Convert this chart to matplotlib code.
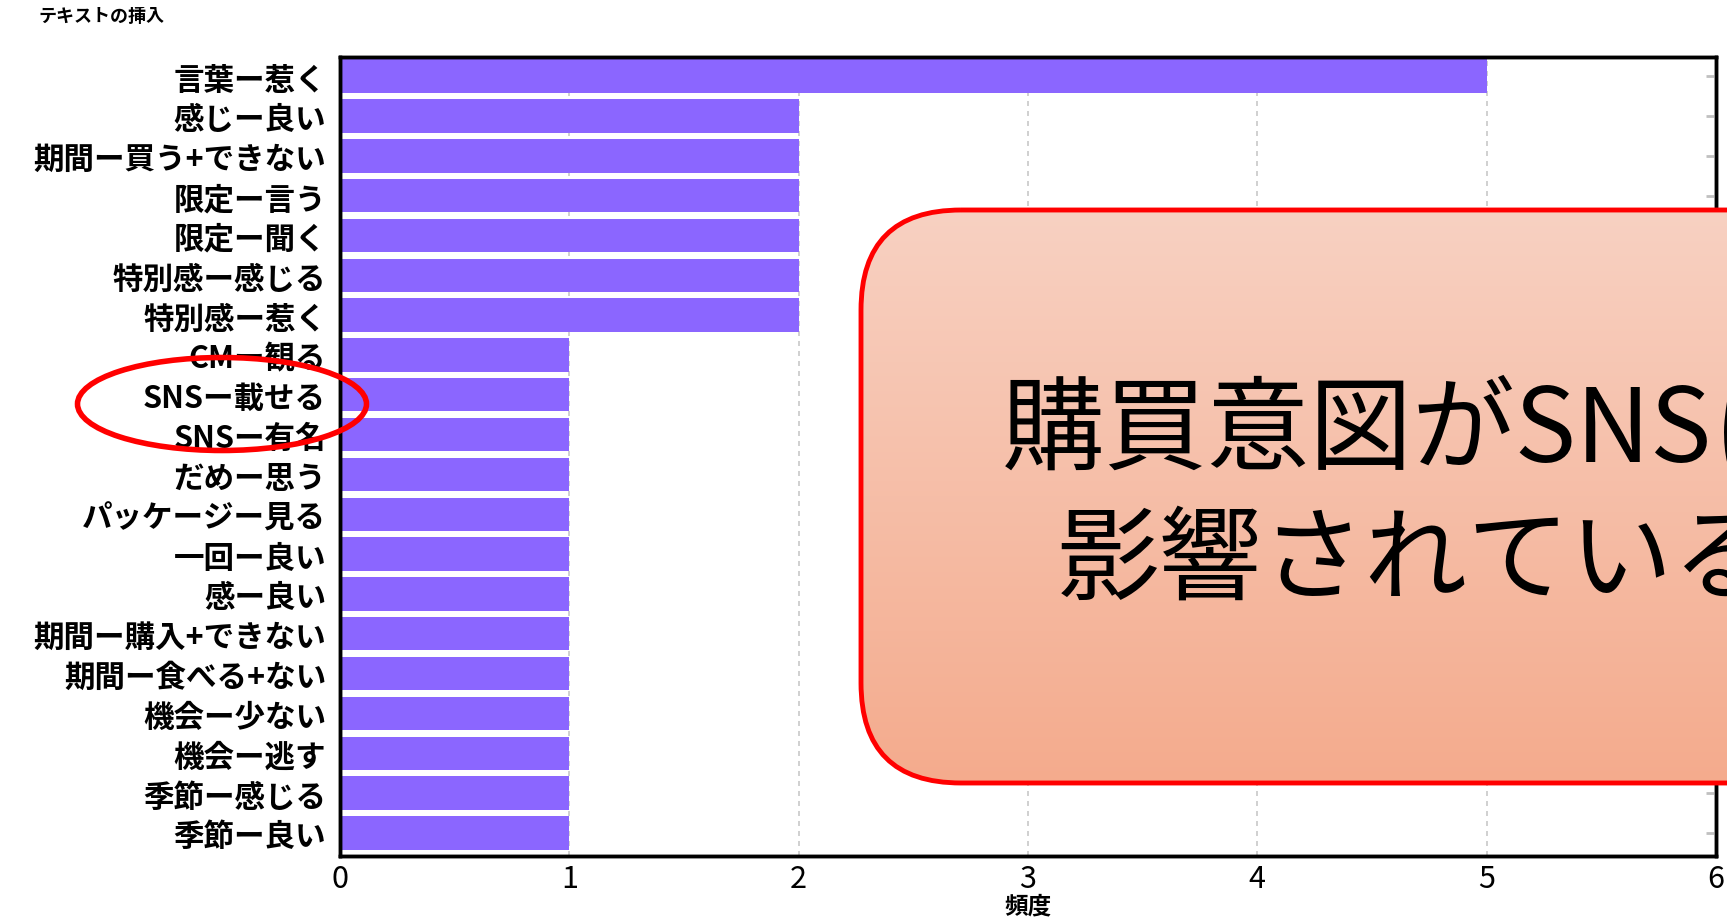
import numpy as np
import matplotlib.pyplot as plt
from matplotlib.patches import FancyBboxPatch, Ellipse
from matplotlib.colors import LinearSegmentedColormap

plt.rcParams['font.family'] = ['Noto Sans CJK JP', 'DejaVu Sans']

# data (top to bottom)
labels = ['言葉ー惹く', '感じー良い', '期間ー買う+できない', '限定ー言う', '限定ー聞く',
          '特別感ー感じる', '特別感ー惹く', 'CMー観る', 'SNSー載せる', 'SNSー有名',
          'だめー思う', 'パッケージー見る', '一回ー良い', '感ー良い', '期間ー購入+できない',
          '期間ー食べる+ない', '機会ー少ない', '機会ー逃す', '季節ー感じる', '季節ー良い']
freq = [5, 2, 2, 2, 2, 2, 2, 1, 1, 1, 1, 1, 1, 1, 1, 1, 1, 1, 1, 1]
xticks = [0, 1, 2, 3, 4, 5, 6]
callout_lines = ['購買意図がSNSに', '影響されている']

W, H = 1727, 920
fig = plt.figure(figsize=(W / 100, H / 100), dpi=100)
ax = fig.add_axes([340 / W, 1 - 857 / H, (1716 - 340) / W, (857 - 58) / H])

y = np.arange(len(labels))
ax.barh(y, freq, height=0.84, color='#8B66FF', zorder=2)
ax.set_ylim(len(labels) - 0.42, -0.48)
ax.set_xlim(0, 6)
ax.set_yticks(y)
ax.set_yticklabels(labels, fontsize=22, fontweight='bold')
ax.set_xticks(xticks)
ax.set_xticklabels([str(t) for t in xticks], fontsize=22)
ax.tick_params(axis='y', length=0, pad=10)
ax.tick_params(axis='x', length=0, pad=5)
ax.set_xlabel('頻度', fontsize=17, fontweight='bold', labelpad=0)
ax.grid(axis='x', color='#c8c8c8', linestyle=(0, (3, 3)), linewidth=1.2, zorder=0)

# small grey ticks on the right side
ax2 = ax.twinx()
ax2.set_ylim(ax.get_ylim())
ax2.set_yticks(y)
ax2.set_yticklabels([])
ax2.tick_params(axis='y', direction='in', length=7, color='#c0c0c0', width=2)

for a in (ax, ax2):
    for spine in a.spines.values():
        spine.set_edgecolor('black')
        spine.set_linewidth(2.5)

fig.text(38 / W, 1 - 16 / H, 'テキストの挿入', fontsize=13, fontweight='bold', va='center')

# overlay in pixel coordinates for the callout box and the ellipse
ov = fig.add_axes([0, 0, 1, 1], facecolor='none')
ov.set_xlim(0, W)
ov.set_ylim(H, 0)
ov.axis('off')

box = FancyBboxPatch((861, 211), 1000, 573, boxstyle='round,pad=0,rounding_size=100',
                     facecolor='none', edgecolor='#FF0000', linewidth=3.5, zorder=3)
ov.add_patch(box)
grad = LinearSegmentedColormap.from_list('g', ['#F8D1C2', '#F4AB8D'])
img = ov.imshow(np.linspace(0, 1, 256).reshape(-1, 1), cmap=grad, aspect='auto',
                extent=(861, 1861, 784, 211), zorder=2)
img.set_clip_path(box)
ov.set_xlim(0, W)
ov.set_ylim(H, 0)

# the callout runs past the right edge, as in the original
ov.text(1002, 432, callout_lines[0], fontsize=74, va='center', ha='left', zorder=4)
ov.text(1057, 562, callout_lines[1], fontsize=74, va='center', ha='left', zorder=4)

ov.add_patch(Ellipse((222, 405), 289, 93, facecolor='none', edgecolor='#FF0000',
                     linewidth=4, zorder=5))

fig.savefig('out.png', dpi=100)
